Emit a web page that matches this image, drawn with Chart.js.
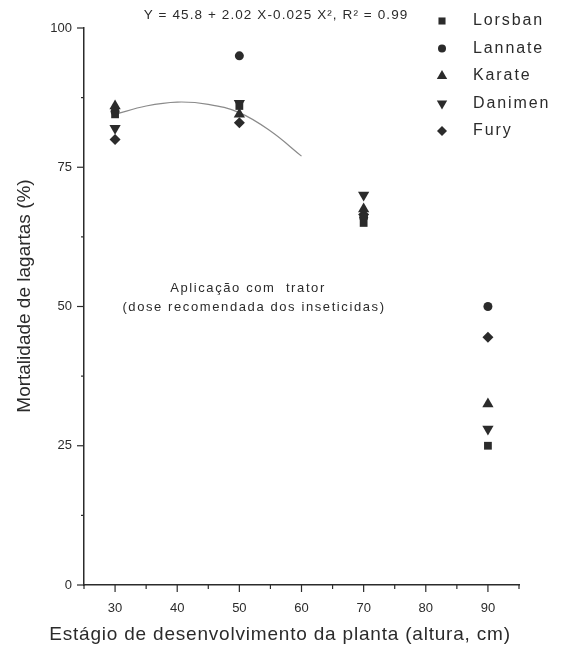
<!DOCTYPE html>
<html>
<head>
<meta charset="utf-8">
<script src="https://cdn.jsdelivr.net/npm/chart.js@4.4.0/dist/chart.umd.min.js"></script>
<style>
    html, body { margin: 0; padding: 0; background: #fff; }
</style>
</head>
<body>
<canvas id="mortalityChart" width="564" height="655"></canvas>
<script>
// plant height (cm) where each insecticide was tested
const heights = [30, 50, 70, 90];

// larva mortality (%) per insecticide
const lorsban = [84.5, 86, 65, 25];
const lannate = [85, 95, 66, 50];
const karate = [86, 84.5, 67.5, 32.5];
const danimen = [82, 86.5, 70, 28];
const fury = [80, 83, 66.5, 44.5];

// fitted curve
const fitX = [30, 35, 40, 45, 50, 55, 60];
const fitY = [84.5, 86, 86.7, 86.3, 84.8, 81.5, 77];

const xTickLabels = [30, 40, 50, 60, 70, 80, 90];
const yTickLabels = [0, 25, 50, 75, 100];

const ink = '#2b2b2b';
const fontFamily = '"Liberation Sans", Arial, sans-serif';

const seriesInfo = [
    { label: 'Lorsban', data: lorsban, pointStyle: 'rect', radius: 5.5, rotation: 0 },
    { label: 'Lannate', data: lannate, pointStyle: 'circle', radius: 4.5, rotation: 0 },
    { label: 'Karate', data: karate, pointStyle: 'triangle', radius: 6.5, rotation: 0 },
    { label: 'Danimen', data: danimen, pointStyle: 'triangle', radius: 6.5, rotation: 180 },
    { label: 'Fury', data: fury, pointStyle: 'rectRot', radius: 5.5, rotation: 0 }
];

const datasets = seriesInfo.map(s => ({
    type: 'scatter',
    label: s.label,
    data: heights.map((h, i) => ({ x: h, y: s.data[i] })),
    pointStyle: s.pointStyle,
    pointRadius: s.radius,
    pointRotation: s.rotation,
    backgroundColor: ink,
    borderColor: ink,
    borderWidth: 0,
    order: 1,
    clip: false
}));

datasets.push({
    type: 'line',
    label: 'fit',
    data: fitX.map((x, i) => ({ x: x, y: fitY[i] })),
    borderColor: '#8a8a8a',
    borderWidth: 1.2,
    tension: 0.4,
    pointRadius: 0,
    fill: false,
    order: 5
});

function spacedText(ctx, txt, x, y, size, spacing, align) {
    ctx.save();
    ctx.font = size + 'px ' + fontFamily;
    ctx.letterSpacing = spacing + 'px';
    ctx.textAlign = align || 'center';
    ctx.textBaseline = 'middle';
    ctx.fillStyle = ink;
    ctx.fillText(txt, x, y);
    ctx.restore();
}

// ticks with long majors and short minors, plus texts, titles and legend
const decorations = {
    id: 'decorations',
    afterDraw(chart) {
        const { ctx, scales: { x, y } } = chart;
        ctx.save();
        ctx.strokeStyle = ink;
        ctx.lineWidth = 1.2;
        x.ticks.forEach(t => {
            const px = x.getPixelForValue(t.value);
            const len = t.value % 10 === 0 ? 7 : 4;
            ctx.beginPath();
            ctx.moveTo(px, y.bottom);
            ctx.lineTo(px, y.bottom + len);
            ctx.stroke();
        });
        y.ticks.forEach(t => {
            const py = y.getPixelForValue(t.value);
            const len = t.value % 25 === 0 ? 7 : 3;
            ctx.beginPath();
            ctx.moveTo(x.left, py);
            ctx.lineTo(x.left - len, py);
            ctx.stroke();
        });
        ctx.restore();

        // equation
        spacedText(ctx, 'Y = 45.8 + 2.02 X-0.025 X², R² = 0.99', 276, 15, 13.5, 1.1, 'center');

        // note inside the plot
        spacedText(ctx, 'Aplicação com  trator', 248, 288, 13, 1.6, 'center');
        spacedText(ctx, '(dose recomendada dos inseticidas)', 254, 307, 13, 1.6, 'center');

        // axis titles
        spacedText(ctx, 'Estágio de desenvolvimento da planta (altura, cm)', 280, 635, 19, 0.8, 'center');
        ctx.save();
        ctx.translate(25, 296);
        ctx.rotate(-Math.PI / 2);
        spacedText(ctx, 'Mortalidade de lagartas (%)', 0, 0, 19, 0, 'center');
        ctx.restore();

        // legend
        seriesInfo.forEach((s, i) => {
            const ly = 21 + i * 27.5;
            ctx.save();
            ctx.fillStyle = ink;
            ctx.strokeStyle = ink;
            Chart.helpers.drawPoint(ctx, {
                pointStyle: s.pointStyle,
                radius: s.radius - 0.5,
                rotation: s.rotation,
                borderWidth: 0
            }, 442, ly);
            ctx.restore();
            spacedText(ctx, s.label, 473, ly, 16, 1.9, 'left');
        });
    }
};

const tickFont = { family: fontFamily, size: 13 };

new Chart(document.getElementById('mortalityChart').getContext('2d'), {
    data: { datasets: datasets },
    options: {
        responsive: false,
        animation: false,
        layout: { padding: { top: 28, right: 45, left: 0, bottom: 0 } },
        scales: {
            x: {
                type: 'linear',
                min: 25,
                max: 95,
                afterFit: scale => { scale.height = 70; },
                ticks: {
                    stepSize: 5,
                    padding: 16,
                    color: ink,
                    font: tickFont,
                    maxRotation: 0,
                    autoSkip: false,
                    callback: v => xTickLabels.includes(v) ? String(v) : ''
                },
                grid: { drawOnChartArea: false, drawTicks: false },
                border: { display: true, color: ink, width: 1.5 }
            },
            y: {
                type: 'linear',
                min: 0,
                max: 100,
                afterFit: scale => { scale.width = 84; },
                ticks: {
                    stepSize: 12.5,
                    padding: 12,
                    color: ink,
                    font: tickFont,
                    autoSkip: false,
                    callback: v => yTickLabels.includes(v) ? String(v) : ''
                },
                grid: { drawOnChartArea: false, drawTicks: false },
                border: { display: true, color: ink, width: 1.5 }
            }
        },
        plugins: {
            legend: { display: false },
            tooltip: { enabled: false }
        }
    },
    plugins: [decorations]
});
</script>
</body>
</html>
